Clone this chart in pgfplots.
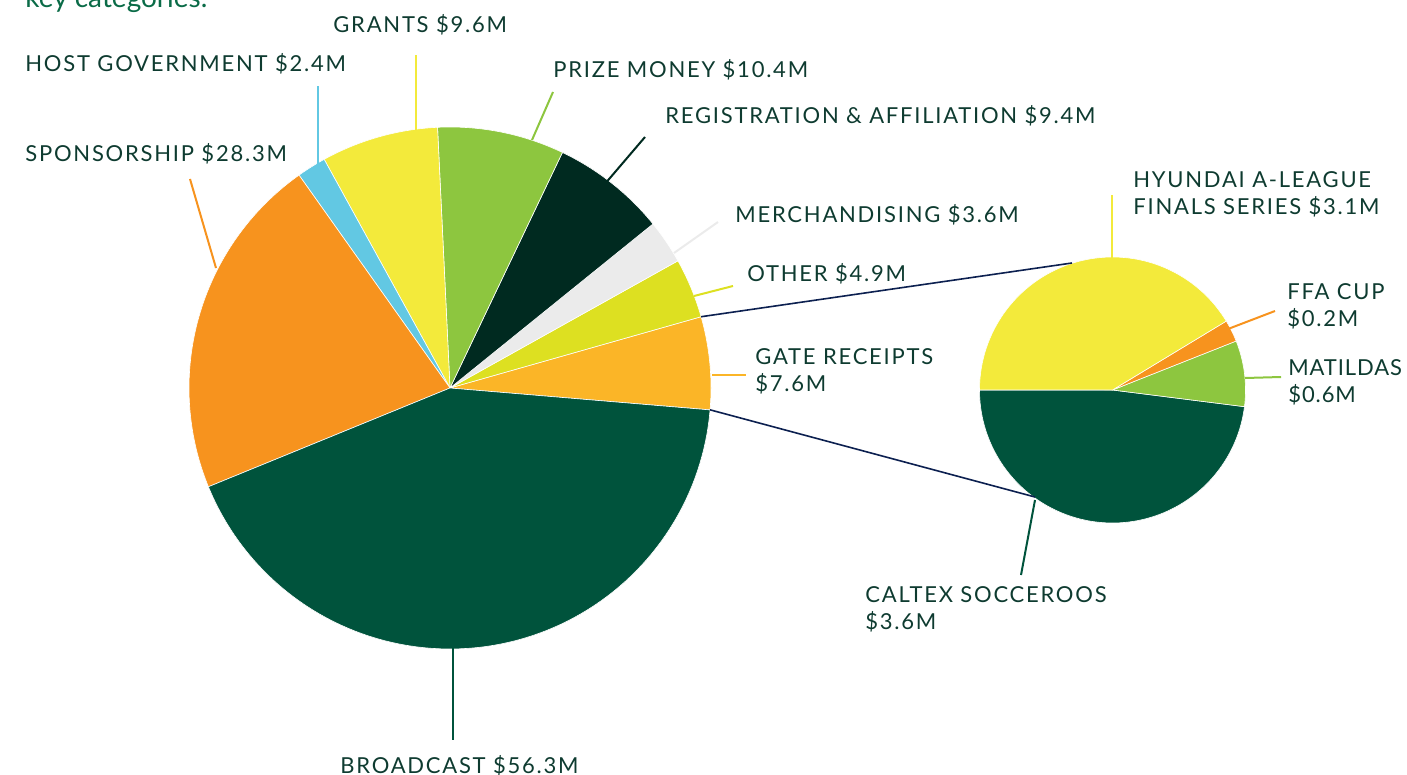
\documentclass[border=0pt]{standalone}
\usepackage{pgfplots}
\pgfplotsset{compat=1.18}
\usepackage{pgfplotstable}
\usepackage{fontspec}
\setmainfont{Lato}[LetterSpace=8]
\usepackage{xcolor}

\definecolor{cBroad}{HTML}{00533C}
\definecolor{cSpons}{HTML}{F7931E}
\definecolor{cHost}{HTML}{62C8E3}
\definecolor{cGrants}{HTML}{F3EA3B}
\definecolor{cPrize}{HTML}{8DC63F}
\definecolor{cReg}{HTML}{002A20}
\definecolor{cMerch}{HTML}{EBEBEB}
\definecolor{cOther}{HTML}{DDE021}
\definecolor{cGate}{HTML}{FBB527}
\definecolor{navy}{HTML}{0C2050}
\definecolor{txt}{HTML}{0E3B30}
\definecolor{keygreen}{HTML}{0A6B47}

% main pie, counter-clockwise from the gate receipts slice
\pgfplotstableread{
name value color
Gate 7.6 cGate
Other 4.9 cOther
Merch 3.6 cMerch
Reg 9.4 cReg
Prize 10.4 cPrize
Grants 9.6 cGrants
Host 2.4 cHost
Spons 28.3 cSpons
Broad 56.3 cBroad
}\maindata

% breakdown of gate receipts, counter-clockwise from the left
\pgfplotstableread{
name value color
Socceroos 3.6 cBroad
Matildas 0.6 cPrize
FFA 0.2 cSpons
ALeague 3.1 cGrants
}\gatedata

% draws one pie from a table: #1 table, #2 rows-1, #3 cx, #4 cy, #5 r, #6 start angle
\newcommand{\drawpie}[6]{%
  \gdef\tot{0}%
  \pgfplotsforeachungrouped \i in {0,...,#2}{%
    \pgfplotstablegetelem{\i}{value}\of#1\pgfmathsetmacro\tmp{\tot+\pgfplotsretval}%
    \global\let\tot\tmp}%
  \pgfmathsetmacro\acc{#6}\global\let\acc\acc
  \pgfplotsforeachungrouped \i in {0,...,#2}{%
    \pgfplotstablegetelem{\i}{value}\of#1\let\v\pgfplotsretval
    \pgfplotstablegetelem{\i}{color}\of#1\let\c\pgfplotsretval
    \pgfmathsetmacro\aEnd{\acc+\v/\tot*360}%
    \edef\doit{\noexpand\addplot[fill=\c, draw=white, line width=0.3pt, domain=\acc:\aEnd, samples=90]
      ({#3+#5*cos(x)},{#4-#5*sin(x)}) -- (axis cs:#3,#4) -- cycle;}%
    \doit
    \ifnum\i=0 \global\let\firstEnd\aEnd\fi
    \global\let\acc\aEnd}%
}

\begin{document}
\begin{tikzpicture}
\begin{axis}[
    at={(0,0)}, anchor=south west,
    width=703.5pt, height=387.5pt, scale only axis,
    xmin=0, xmax=1407, ymin=0, ymax=775, y dir=reverse,
    hide axis, clip=false,
]
\drawpie{\maindata}{8}{450}{388}{261}{-4.8}
\global\let\gEnd\firstEnd
\drawpie{\gatedata}{3}{1112.5}{390}{133}{-180}

% connectors to the breakdown pie
\draw[navy, line width=0.8pt] (axis cs:{450+261*cos(-4.8)},{388-261*sin(-4.8)}) -- (axis cs:1035,497);
\draw[navy, line width=0.8pt] (axis cs:{450+261*cos(\gEnd)},{388-261*sin(\gEnd)}) -- (axis cs:1072,263);

% leader lines
\draw[cGrants, line width=1pt] (axis cs:416,130) -- (axis cs:416,55);
\draw[cHost, line width=1pt] (axis cs:318,165) -- (axis cs:318,86);
\draw[cSpons, line width=1pt] (axis cs:216,268) -- (axis cs:190,179);
\draw[cPrize, line width=1pt] (axis cs:532,140) -- (axis cs:553,92);
\draw[cReg, line width=1pt] (axis cs:604,185) -- (axis cs:645,137);
\draw[cMerch, line width=1pt] (axis cs:674,253) -- (axis cs:718,222);
\draw[cOther, line width=1pt] (axis cs:694,296) -- (axis cs:733,286);
\draw[cGate, line width=1pt] (axis cs:712,375) -- (axis cs:746,375);
\draw[cBroad, line width=1pt] (axis cs:453,648) -- (axis cs:453,740);
\draw[cGrants, line width=1pt] (axis cs:1112,258) -- (axis cs:1112,195);
\draw[cSpons, line width=1pt] (axis cs:1228,329) -- (axis cs:1275,311);
\draw[cPrize, line width=1pt] (axis cs:1245,378) -- (axis cs:1281,377);
\draw[cBroad, line width=1pt] (axis cs:1035,500) -- (axis cs:1021,575);

% labels (base anchor of a two-line node is its last line)
\begin{scope}[every node/.style={anchor=base west, inner sep=0pt, align=left, text=txt,
    font=\fontsize{11}{13.5}\selectfont}]
\node at (axis cs:333,33) {GRANTS \$9.6M};
\node at (axis cs:25,72) {HOST GOVERNMENT \$2.4M};
\node at (axis cs:25,162) {SPONSORSHIP \$28.3M};
\node at (axis cs:553,78) {PRIZE MONEY \$10.4M};
\node at (axis cs:665,124) {REGISTRATION \& AFFILIATION \$9.4M};
\node at (axis cs:735,223) {MERCHANDISING \$3.6M};
\node at (axis cs:747,281) {OTHER \$4.9M};
\node at (axis cs:755,391) {GATE RECEIPTS\\\$7.6M};
\node at (axis cs:1133,214) {HYUNDAI A-LEAGUE\\FINALS SERIES \$3.1M};
\node at (axis cs:1287,326) {FFA CUP\\\$0.2M};
\node[font=\fontsize{11}{13.5}\selectfont\addfontfeatures{LetterSpace=4}] at (axis cs:1288,402) {MATILDAS\\\$0.6M};
\node at (axis cs:865,629) {CALTEX SOCCEROOS\\\$3.6M};
\node at (axis cs:340,773) {BROADCAST \$56.3M};
\end{scope}
\node[anchor=base west, inner sep=0pt, text=keygreen,
    font=\fontsize{14}{16}\selectfont\addfontfeatures{LetterSpace=0}] at (axis cs:25,8) {key categories.};
\end{axis}
\pgfresetboundingbox
\path[use as bounding box] (0,0) rectangle (703.5pt,387.5pt);
\end{tikzpicture}
\end{document}
